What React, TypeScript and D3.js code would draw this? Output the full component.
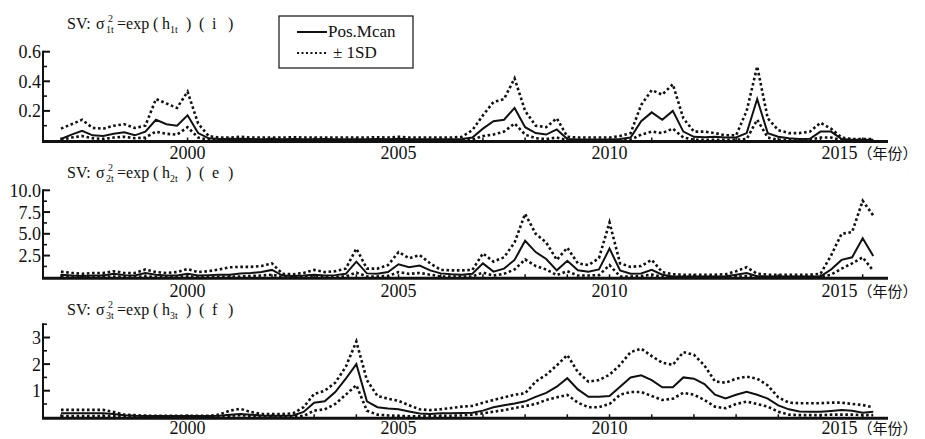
import React from 'react';
import * as d3 from 'd3';

// quarterly data, 1997Q1 .. 2016Q2
const START_YEAR = 1997;

// panel (i): sigma^2_1t
const mean1 = [
  0.01, 0.04, 0.065, 0.035, 0.03, 0.045, 0.055, 0.035, 0.06, 0.14, 0.11, 0.10,
  0.17, 0.05, 0.015, 0.01, 0.01, 0.012, 0.01, 0.008, 0.01, 0.008, 0.01, 0.008,
  0.008, 0.01, 0.008, 0.008, 0.008, 0.008, 0.01, 0.008, 0.012, 0.008, 0.008, 0.008,
  0.008, 0.008, 0.01, 0.02, 0.08, 0.13, 0.14, 0.22, 0.09, 0.05, 0.04, 0.075,
  0.01, 0.006, 0.006, 0.006, 0.006, 0.01, 0.02, 0.13, 0.19, 0.14, 0.20, 0.06,
  0.025, 0.022, 0.025, 0.02, 0.02, 0.05, 0.28, 0.05, 0.025, 0.015, 0.01, 0.012,
  0.06, 0.06, 0.01, 0.005, 0.005, 0.005
];
const upper1 = [
  0.08, 0.11, 0.14, 0.085, 0.08, 0.10, 0.11, 0.085, 0.10, 0.28, 0.25, 0.22,
  0.33, 0.115, 0.03, 0.02, 0.02, 0.025, 0.02, 0.02, 0.02, 0.02, 0.022, 0.02,
  0.02, 0.02, 0.02, 0.02, 0.02, 0.02, 0.022, 0.02, 0.025, 0.02, 0.02, 0.02,
  0.02, 0.02, 0.025, 0.07, 0.17, 0.26, 0.28, 0.42, 0.20, 0.10, 0.09, 0.15,
  0.025, 0.02, 0.02, 0.02, 0.02, 0.03, 0.05, 0.24, 0.34, 0.31, 0.38, 0.15,
  0.06, 0.06, 0.05, 0.035, 0.035, 0.20, 0.50, 0.15, 0.07, 0.05, 0.05, 0.06,
  0.12, 0.08, 0.02, 0.01, 0.01, 0.01
];
const lower1 = [
  0.004, 0.02, 0.03, 0.015, 0.01, 0.02, 0.025, 0.015, 0.02, 0.06, 0.045, 0.04,
  0.09, 0.02, 0.004, 0.002, 0.002, 0.002, 0.002, 0.002, 0.002, 0.002, 0.002, 0.002,
  0.002, 0.002, 0.002, 0.002, 0.002, 0.002, 0.002, 0.002, 0.002, 0.002, 0.002, 0.002,
  0.002, 0.002, 0.002, 0.006, 0.03, 0.04, 0.06, 0.115, 0.04, 0.015, 0.01, 0.02,
  0.002, 0.002, 0.002, 0.002, 0.002, 0.002, 0.005, 0.04, 0.06, 0.05, 0.08, 0.02,
  0.005, 0.005, 0.005, 0.005, 0.005, 0.01, 0.14, 0.02, 0.005, 0.005, 0.005, 0.005,
  0.02, 0.02, 0.002, 0.002, 0.002, 0.002
];

// panel (e): sigma^2_2t
const mean2 = [
  0.3, 0.2, 0.15, 0.2, 0.2, 0.4, 0.25, 0.2, 0.5, 0.3, 0.2, 0.2,
  0.4, 0.2, 0.25, 0.3, 0.3, 0.45, 0.5, 0.6, 0.85, 0.2, 0.15, 0.2,
  0.3, 0.2, 0.25, 0.4, 1.8, 0.45, 0.4, 0.6, 1.5, 1.15, 1.35, 0.8,
  0.45, 0.35, 0.3, 0.4, 1.6, 0.65, 1.0, 2.0, 4.2, 2.9, 2.1, 0.8,
  1.9, 0.8, 0.65, 0.9, 3.3, 0.8, 0.4, 0.45, 0.85, 0.3, 0.1, 0.1,
  0.1, 0.1, 0.1, 0.12, 0.3, 0.5, 0.12, 0.1, 0.1, 0.1, 0.1, 0.1,
  0.1, 0.9, 2.0, 2.3, 4.5, 2.45
];
const upper2 = [
  0.65, 0.5, 0.4, 0.5, 0.5, 0.7, 0.5, 0.5, 0.9, 0.6, 0.5, 0.6,
  0.95, 0.6, 0.7, 0.9, 1.15, 1.2, 1.2, 1.3, 1.6, 0.4, 0.35, 0.5,
  0.85, 0.6, 0.7, 1.0, 3.3, 1.0, 1.0, 1.4, 2.9, 2.2, 2.55, 1.6,
  0.85, 0.8, 0.8, 0.85, 2.75, 1.8, 2.3, 4.0, 7.3, 5.0, 4.0, 2.0,
  3.4, 1.6, 1.4, 2.2, 6.3, 1.6, 1.2, 1.3, 2.0, 0.6, 0.35, 0.3,
  0.3, 0.3, 0.3, 0.35, 0.7, 1.15, 0.4, 0.3, 0.3, 0.3, 0.3, 0.3,
  0.4, 2.5, 5.0, 5.2, 8.8, 7.1
];
const lower2 = [
  0.1, 0.05, 0.05, 0.05, 0.05, 0.1, 0.05, 0.05, 0.1, 0.05, 0.05, 0.05,
  0.1, 0.05, 0.05, 0.05, 0.05, 0.1, 0.15, 0.2, 0.3, 0.05, 0.05, 0.05,
  0.05, 0.05, 0.05, 0.1, 0.55, 0.1, 0.1, 0.15, 0.6, 0.4, 0.5, 0.3,
  0.1, 0.1, 0.1, 0.1, 0.55, 0.2, 0.4, 0.9, 2.05, 1.3, 0.9, 0.25,
  0.7, 0.2, 0.2, 0.25, 1.4, 0.1, 0.1, 0.15, 0.3, 0.05, 0.02, 0.02,
  0.02, 0.02, 0.02, 0.02, 0.05, 0.15, 0.02, 0.02, 0.02, 0.02, 0.02, 0.02,
  0.03, 0.3, 1.0, 1.6, 2.3, 0.75
];

// panel (f): sigma^2_3t
const mean3 = [
  0.15, 0.15, 0.15, 0.15, 0.15, 0.12, 0.08, 0.06, 0.05, 0.05, 0.05, 0.05,
  0.05, 0.05, 0.05, 0.06, 0.1, 0.12, 0.1, 0.07, 0.06, 0.06, 0.07, 0.2,
  0.55, 0.6, 0.95, 1.45, 2.0, 0.6, 0.38, 0.33, 0.3, 0.22, 0.14, 0.12,
  0.15, 0.15, 0.16, 0.17, 0.25, 0.38, 0.45, 0.52, 0.6, 0.77, 0.92, 1.15,
  1.47, 1.05, 0.77, 0.77, 0.8, 1.15, 1.5, 1.58, 1.4, 1.13, 1.13, 1.5,
  1.45, 1.25, 0.85, 0.71, 0.85, 0.96, 0.85, 0.7, 0.45, 0.3, 0.22, 0.21,
  0.21, 0.24, 0.27, 0.25, 0.17, 0.21
];
const upper3 = [
  0.28, 0.28, 0.28, 0.28, 0.28, 0.2, 0.1, 0.08, 0.06, 0.06, 0.06, 0.06,
  0.06, 0.06, 0.06, 0.1, 0.25, 0.32, 0.2, 0.12, 0.12, 0.12, 0.15, 0.38,
  0.88, 1.0, 1.3, 1.9, 2.85, 1.4, 0.8, 0.7, 0.62, 0.45, 0.3, 0.27,
  0.3, 0.35, 0.4, 0.43, 0.55, 0.65, 0.75, 0.85, 0.9, 1.34, 1.6, 1.95,
  2.34, 1.7, 1.34, 1.4, 1.6, 1.97, 2.45, 2.58, 2.3, 2.05, 1.97, 2.45,
  2.35, 1.95, 1.35, 1.3, 1.45, 1.53, 1.45, 1.2, 0.75, 0.55, 0.53, 0.53,
  0.53, 0.55, 0.55, 0.5, 0.46, 0.38
];
const lower3 = [
  0.05, 0.05, 0.05, 0.05, 0.05, 0.04, 0.03, 0.03, 0.02, 0.02, 0.02, 0.02,
  0.02, 0.02, 0.02, 0.03, 0.05, 0.08, 0.05, 0.03, 0.02, 0.02, 0.03, 0.05,
  0.25, 0.3, 0.5, 0.85, 1.21, 0.25, 0.1, 0.07, 0.05, 0.04, 0.04, 0.05,
  0.05, 0.06, 0.07, 0.1, 0.15, 0.21, 0.27, 0.35, 0.42, 0.5, 0.65, 0.75,
  0.84, 0.55, 0.38, 0.38, 0.5, 0.85, 0.95, 0.95, 0.8, 0.65, 0.7, 0.92,
  0.85, 0.65, 0.4, 0.34, 0.5, 0.59, 0.5, 0.4, 0.21, 0.1, 0.08, 0.08,
  0.08, 0.1, 0.1, 0.1, 0.08, 0.08
];

// axis ticks
const yearTicks = d3.range(1997, 2017);
const yearLabels = [2000, 2005, 2010, 2015];
const major1 = [0.2, 0.4, 0.6];
const minor1 = [0.1, 0.3, 0.5];
const major2 = [2.5, 5, 7.5, 10];
const minor2 = [1.25, 3.75, 6.25, 8.75];
const major3 = [1, 2, 3];
const minor3 = [0.5, 1.5, 2.5, 3.5];

const INK = '#111';
const serif = { fontFamily: 'Liberation Serif' };
const cjk = { fontFamily: 'Noto Sans CJK SC' };

const width = 925;
const height = 439;

const x = d3.scaleLinear().domain([1996.55, 2016.6]).range([42, 888]);

const panels = [
  { idx: '1', letter: 'i', mean: mean1, upper: upper1, lower: lower1, max: 0.6, bottom: 140.5, top: 51.7,
    major: major1, minor: minor1, fmt: (v: number) => v.toFixed(1), titleY: 29, labelY: 159 },
  { idx: '2', letter: 'e', mean: mean2, upper: upper2, lower: lower2, max: 10, bottom: 277.3, top: 190.3,
    major: major2, minor: minor2, fmt: (v: number) => v.toFixed(1), titleY: 178, labelY: 297 },
  { idx: '3', letter: 'f', mean: mean3, upper: upper3, lower: lower3, max: 3.5, bottom: 417.3, top: 324.2,
    major: major3, minor: minor3, fmt: (v: number) => String(v), titleY: 315, labelY: 434 },
];

// σ with stacked super/subscript, then =exp(h_it)(letter)
const Title = ({ idx, letter, y }: { idx: string; letter: string; y: number }) => (
  <text y={y} fontSize={16} fill={INK} style={serif}>
    <tspan x={67}>SV:</tspan>
    <tspan x={96}>σ</tspan>
    <tspan x={108} y={y - 7} fontSize={10}>2</tspan>
    <tspan x={106} y={y + 4} fontSize={10}>{idx}t</tspan>
    <tspan x={117} y={y}>=exp</tspan>
    <tspan x={153}>(</tspan>
    <tspan x={162}>h</tspan>
    <tspan x={170} y={y + 4} fontSize={10}>{idx}t</tspan>
    <tspan x={186} y={y}>)</tspan>
    <tspan x={199}>(</tspan>
    <tspan x={212}>{letter}</tspan>
    <tspan x={228}>)</tspan>
  </text>
);

const Panel = ({ p }: { p: typeof panels[number] }) => {
  const y = d3.scaleLinear().domain([0, p.max]).range([p.bottom, p.top]);
  const line = d3.line<number>()
    .x((_, i) => x(START_YEAR + i / 4))
    .y(d => y(d));
  const base = y(0) + 1;

  return (
    <g>
      <Title idx={p.idx} letter={p.letter} y={p.titleY} />

      {/* y axis */}
      <line x1={43} x2={43} y1={y(p.max) - 1} y2={base} stroke={INK} strokeWidth={2} />
      {p.major.map(v => (
        <g key={'M' + v}>
          <line x1={43} x2={50} y1={y(v)} y2={y(v)} stroke={INK} strokeWidth={2} />
          <text x={41} y={y(v)} dy="0.36em" textAnchor="end" fontSize={18} fill={INK} style={serif}>
            {p.fmt(v)}
          </text>
        </g>
      ))}
      {p.minor.map(v => (
        <line key={'m' + v} x1={43} x2={47} y1={y(v)} y2={y(v)} stroke={INK} strokeWidth={1.6} />
      ))}

      {/* series */}
      <path d={line(p.upper) || ''} fill="none" stroke={INK} strokeWidth={2.6} strokeDasharray="2.6 2.6" />
      <path d={line(p.lower) || ''} fill="none" stroke={INK} strokeWidth={2.6} strokeDasharray="2.6 2.6" />
      <path d={line(p.mean) || ''} fill="none" stroke={INK} strokeWidth={2} />

      {/* x axis */}
      <line x1={42} x2={888} y1={base} y2={base} stroke={INK} strokeWidth={3} />
      {yearTicks.map(t => (
        <line key={t} x1={x(t)} x2={x(t)} y1={base} y2={base - 4} stroke={INK} strokeWidth={1.5} />
      ))}
      {yearLabels.map(t => t === 2015 ? (
        <text key={t} x={x(t) + 1} y={p.labelY} fontSize={18} fill={INK} style={serif}>
          2015<tspan fontSize={15} style={cjk}>（年份）</tspan>
        </text>
      ) : (
        <text key={t} x={x(t)} y={p.labelY} textAnchor="middle" fontSize={18} fill={INK} style={serif}>
          {t}
        </text>
      ))}
    </g>
  );
};

export default function App() {
  return (
    <svg width={width} height={height} style={{ position: 'absolute', left: 0, top: 0, background: '#fff' }}>
      <rect width={width} height={height} fill="#fff" />
      {panels.map(p => <Panel key={p.idx} p={p} />)}

      {/* legend */}
      <rect x={279} y={16} width={134} height={52} fill="#fff" stroke={INK} strokeWidth={1.2} />
      <line x1={297} x2={327} y1={32} y2={32} stroke={INK} strokeWidth={2} />
      <text x={328} y={37} fontSize={17} fill={INK} style={serif}>Pos.Mcan</text>
      <line x1={297} x2={327} y1={53} y2={53} stroke={INK} strokeWidth={2} strokeDasharray="2 2.5" />
      <text x={333} y={58} fontSize={17} fill={INK} style={serif}>± 1SD</text>
    </svg>
  );
}
